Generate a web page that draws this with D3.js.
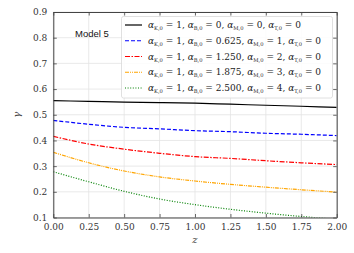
<!DOCTYPE html>
<html lang="en">
<head>
    <meta charset="UTF-8">
    <title>Model 5 gamma(z)</title>
    <script src="https://cdnjs.cloudflare.com/ajax/libs/d3/7.8.5/d3.min.js"></script>
    <style>
        body { margin: 0; padding: 0; background: white; }
        svg { display: block; }
    </style>
</head>
<body>
    <div id="chart"></div>
    <script>
        // Data
        const zValues = [0, 0.25, 0.5, 0.75, 1.0, 1.25, 1.5, 1.75, 2.0];
        const gammaA = [0.555, 0.552, 0.549, 0.547, 0.545, 0.541, 0.537, 0.533, 0.529];
        const gammaB = [0.478, 0.463, 0.451, 0.445, 0.438, 0.434, 0.428, 0.424, 0.419];
        const gammaC = [0.416, 0.386, 0.366, 0.350, 0.337, 0.330, 0.321, 0.313, 0.306];
        const gammaD = [0.354, 0.313, 0.281, 0.258, 0.242, 0.229, 0.218, 0.208, 0.199];
        const gammaE = [0.278, 0.239, 0.202, 0.172, 0.150, 0.132, 0.117, 0.104, 0.093];

        const xTicks = [0, 0.25, 0.5, 0.75, 1.0, 1.25, 1.5, 1.75, 2.0];
        const yTicks = [0.1, 0.2, 0.3, 0.4, 0.5, 0.6, 0.7, 0.8, 0.9];

        // legend labels: [alphaK, alphaB, alphaM, alphaT]
        const legendValues = [
            ['1', '0', '0', '0'],
            ['1', '0.625', '1', '0'],
            ['1', '1.250', '2', '0'],
            ['1', '1.875', '3', '0'],
            ['1', '2.500', '4', '0']
        ];
        const seriesList = [gammaA, gammaB, gammaC, gammaD, gammaE];
        const colors = ['#000000', '#0000ff', '#ff0000', '#ffa500', '#008000'];
        const dashes = [null, '4,2', '5,1.5,1.5,1.5', '4,1,1,1,1,1', '1,1.6'];

        const serif = '"DejaVu Serif", "Liberation Serif", serif';
        const width = 354, height = 253;
        const margin = { left: 53.3, right: 17.3, top: 12, bottom: 35.5 };

        const svg = d3.select('#chart').append('svg')
            .attr('width', width)
            .attr('height', height);

        const x = d3.scaleLinear().domain([0, 2]).range([margin.left, width - margin.right]);
        const y = d3.scaleLinear().domain([0.1, 0.9]).range([height - margin.bottom, margin.top]);

        // grid
        const grid = svg.append('g');
        grid.selectAll('.vg').data(xTicks).enter().append('line')
            .attr('x1', d => x(d)).attr('x2', d => x(d))
            .attr('y1', y(0.1)).attr('y2', y(0.9))
            .attr('stroke', '#e3e3e3').attr('stroke-width', 0.8);
        grid.selectAll('.hg').data(yTicks).enter().append('line')
            .attr('y1', d => y(d)).attr('y2', d => y(d))
            .attr('x1', x(0)).attr('x2', x(2))
            .attr('stroke', '#e3e3e3').attr('stroke-width', 0.8);

        svg.append('clipPath').attr('id', 'plot-clip')
            .append('rect')
            .attr('x', x(0)).attr('y', y(0.9))
            .attr('width', x(2) - x(0)).attr('height', y(0.1) - y(0.9));

        const line = d3.line()
            .x((d, i) => x(zValues[i]))
            .y(d => y(d))
            .curve(d3.curveMonotoneX);

        const curves = svg.append('g').attr('clip-path', 'url(#plot-clip)');
        seriesList.forEach((s, i) => {
            curves.append('path')
                .datum(s)
                .attr('d', line)
                .attr('fill', 'none')
                .attr('stroke', colors[i])
                .attr('stroke-width', 1.2)
                .attr('stroke-dasharray', dashes[i]);
        });

        // axes with inward ticks on all four sides
        const axisBottom = d3.axisBottom(x).tickValues(xTicks).tickSizeInner(-3.5).tickSizeOuter(0).tickFormat(d3.format('.2f')).tickPadding(6);
        const axisTop = d3.axisTop(x).tickValues(xTicks).tickSizeInner(-3.5).tickSizeOuter(0).tickFormat('');
        const axisLeft = d3.axisLeft(y).tickValues(yTicks).tickSizeInner(-3.5).tickSizeOuter(0).tickFormat(d3.format('.1f')).tickPadding(6);
        const axisRight = d3.axisRight(y).tickValues(yTicks).tickSizeInner(-3.5).tickSizeOuter(0).tickFormat('');

        function styleAxis(g) {
            g.attr('font-family', null).attr('font-size', null);
            g.select('.domain').attr('stroke', '#444').attr('stroke-width', 1);
            g.selectAll('.tick line').attr('stroke', '#444').attr('stroke-width', 0.8);
            g.selectAll('.tick text')
                .attr('fill', '#333')
                .style('font-family', serif)
                .style('font-size', '9px');
        }

        svg.append('g').attr('transform', `translate(0,${y(0.1)})`).call(axisBottom).call(styleAxis);
        svg.append('g').attr('transform', `translate(0,${y(0.9)})`).call(axisTop).call(styleAxis);
        svg.append('g').attr('transform', `translate(${x(0)},0)`).call(axisLeft).call(styleAxis);
        svg.append('g').attr('transform', `translate(${x(2)},0)`).call(axisRight).call(styleAxis);

        // axis labels
        svg.append('text')
            .attr('x', (x(0) + x(2)) / 2).attr('y', 243)
            .attr('text-anchor', 'middle')
            .style('font-family', serif).style('font-style', 'italic')
            .style('font-size', '10px').attr('fill', '#444')
            .text('z');
        svg.append('text')
            .attr('transform', `translate(20,${(y(0.1) + y(0.9)) / 2}) rotate(-90)`)
            .attr('text-anchor', 'middle')
            .style('font-family', serif).style('font-style', 'italic')
            .style('font-size', '10px').attr('fill', '#444')
            .text('γ');

        // Model label
        svg.append('text')
            .attr('x', 75).attr('y', 37)
            .style('font-family', '"Liberation Sans", Arial, sans-serif')
            .style('font-size', '9.5px').attr('fill', '#111')
            .text('Model 5');

        // legend
        const legend = svg.append('g');
        legend.append('rect')
            .attr('x', 121.5).attr('y', 16.5)
            .attr('width', 211).attr('height', 81.5)
            .attr('rx', 2)
            .attr('fill', 'white').attr('fill-opacity', 0.85)
            .attr('stroke', '#d8d8d8').attr('stroke-width', 0.8);

        const rowY0 = 25, rowStep = 15.75;
        const subs = ['K,0', 'B,0', 'M,0', 'T,0'];
        legendValues.forEach((vals, i) => {
            const ry = rowY0 + i * rowStep;
            legend.append('line')
                .attr('x1', 125).attr('x2', 142)
                .attr('y1', ry).attr('y2', ry)
                .attr('stroke', colors[i]).attr('stroke-width', 1.2)
                .attr('stroke-dasharray', dashes[i]);
            const t = legend.append('text')
                .style('font-family', serif).style('font-size', '9px')
                .attr('fill', '#222')
                .attr('x', 148).attr('y', ry + 3);
            vals.forEach((v, k) => {
                t.append('tspan').style('font-style', 'italic').text('α');
                t.append('tspan').style('font-size', '5.2px').attr('dy', 2).text(subs[k]);
                t.append('tspan').attr('dy', -2).text(' = ' + v + (k < 3 ? ', ' : ''));
            });
        });
    </script>
</body>
</html>
